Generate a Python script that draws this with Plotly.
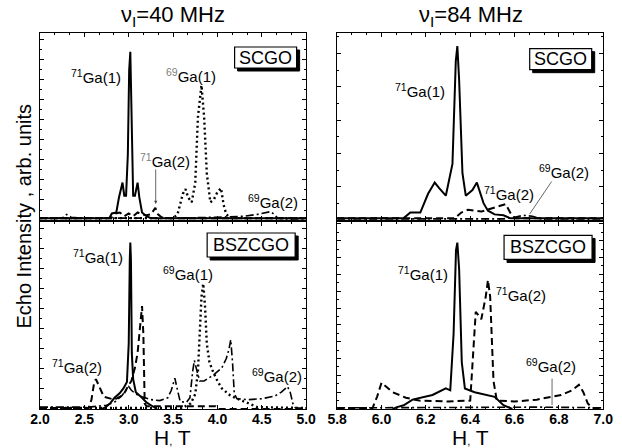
import plotly.graph_objects as go

# ---------------- data ----------------
# Top-left: SCGO, 40 MHz
tl_g71_1_x = [2.0, 2.78, 2.81, 2.86, 2.89, 2.93, 2.95, 2.97, 2.99, 3.005, 3.018, 3.03, 3.05, 3.07, 3.10, 3.12, 3.15, 3.20, 3.25, 5.0]
tl_g71_1_y = [0.01, 0.01, 0.035, 0.04, 0.12, 0.20, 0.13, 0.13, 0.35, 0.80, 0.90, 0.65, 0.13, 0.13, 0.20, 0.12, 0.04, 0.02, 0.01, 0.01]
tl_g71_2_x = [2.0, 2.80, 2.85, 2.90, 2.95, 3.00, 3.05, 3.10, 3.15, 3.20, 3.25, 3.28, 3.30, 3.33, 3.37, 3.45, 5.0]
tl_g71_2_y = [0.01, 0.01, 0.035, 0.04, 0.02, 0.035, 0.02, 0.04, 0.03, 0.025, 0.03, 0.05, 0.065, 0.03, 0.015, 0.01, 0.01]
tl_g69_1_x = [2.0, 3.50, 3.55, 3.58, 3.61, 3.64, 3.67, 3.71, 3.75, 3.78, 3.82, 3.85, 3.88, 3.92, 3.96, 4.00, 4.04, 4.07, 4.10, 4.15, 5.0]
tl_g69_1_y = [0.01, 0.01, 0.03, 0.08, 0.14, 0.165, 0.12, 0.095, 0.20, 0.55, 0.72, 0.55, 0.25, 0.095, 0.11, 0.15, 0.17, 0.08, 0.03, 0.01, 0.01]
tl_g69_2_x = [2.0, 2.25, 2.30, 2.35, 2.45, 3.0, 3.5, 4.0, 4.3, 4.45, 4.55, 4.60, 4.64, 4.68, 4.75, 5.0]
tl_g69_2_y = [0.01, 0.01, 0.03, 0.015, 0.01, 0.01, 0.01, 0.015, 0.02, 0.03, 0.04, 0.045, 0.03, 0.01, 0.006, 0.006]

# Top-right: SCGO, 84 MHz
tr_g71_1_x = [5.8, 6.10, 6.13, 6.175, 6.21, 6.24, 6.26, 6.29, 6.32, 6.335, 6.342, 6.35, 6.365, 6.38, 6.41, 6.43, 6.46, 6.48, 6.51, 6.55, 6.58, 7.0]
tr_g71_1_y = [0.01, 0.01, 0.04, 0.04, 0.14, 0.20, 0.17, 0.13, 0.30, 0.85, 0.93, 0.75, 0.25, 0.13, 0.16, 0.20, 0.09, 0.05, 0.03, 0.025, 0.01, 0.01]
tr_g71_2_x = [5.8, 6.33, 6.36, 6.39, 6.45, 6.52, 6.56, 6.585, 6.60, 7.0]
tr_g71_2_y = [0.01, 0.01, 0.04, 0.055, 0.045, 0.07, 0.085, 0.03, 0.01, 0.01]
tr_g69_2_x = [5.8, 6.55, 6.60, 6.64, 6.68, 6.72, 7.0]
tr_g69_2_y = [0.006, 0.006, 0.015, 0.025, 0.02, 0.006, 0.006]

# Bottom-left: BSZCGO, 40 MHz
bl_g71_1_x = [2.70, 2.74, 2.79, 2.84, 2.90, 2.94, 2.98, 3.00, 3.012, 3.018, 3.025, 3.035, 3.05, 3.08, 3.15, 3.20, 3.25, 3.32]
bl_g71_1_y = [0.0, 0.01, 0.03, 0.06, 0.085, 0.11, 0.145, 0.35, 0.80, 0.89, 0.80, 0.30, 0.16, 0.09, 0.06, 0.035, 0.02, 0.0]
bl_g71_2_x = [2.0, 2.55, 2.58, 2.61, 2.63, 2.67, 2.72, 2.84, 2.94, 2.99, 3.03, 3.07, 3.10, 3.13, 3.15, 3.165, 3.18, 3.20, 3.5, 3.98, 4.01, 5.0]
bl_g71_2_y = [0.006, 0.006, 0.05, 0.14, 0.16, 0.12, 0.065, 0.05, 0.075, 0.12, 0.15, 0.22, 0.30, 0.45, 0.55, 0.40, 0.03, 0.015, 0.015, 0.015, 0.0, 0.0]
bl_g69_1_x = [2.0, 3.60, 3.70, 3.75, 3.78, 3.80, 3.82, 3.84, 3.86, 3.88, 3.91, 3.95, 4.00, 4.05, 4.15, 4.25, 4.35, 4.45, 5.0]
bl_g69_1_y = [0.005, 0.005, 0.03, 0.08, 0.20, 0.40, 0.60, 0.67, 0.55, 0.35, 0.25, 0.20, 0.15, 0.11, 0.07, 0.05, 0.03, 0.01, 0.005]
bl_g69_2_x = [2.0, 2.55, 2.65, 2.75, 2.85, 2.92, 2.97, 3.00, 3.03, 3.08, 3.15, 3.25, 3.35, 3.44, 3.48, 3.52, 3.55, 3.58, 3.65, 3.69, 3.72, 3.74, 3.76, 3.80, 3.85, 3.95, 4.05, 4.10, 4.13, 4.15, 4.17, 4.19, 4.22, 4.35, 4.50, 4.65, 4.72, 4.76, 4.79, 4.82, 4.85, 4.88, 5.0]
bl_g69_2_y = [0.01, 0.01, 0.015, 0.02, 0.04, 0.07, 0.10, 0.12, 0.10, 0.08, 0.065, 0.05, 0.045, 0.06, 0.10, 0.165, 0.10, 0.04, 0.035, 0.06, 0.20, 0.26, 0.22, 0.15, 0.15, 0.18, 0.22, 0.27, 0.32, 0.37, 0.25, 0.08, 0.055, 0.05, 0.055, 0.07, 0.09, 0.11, 0.12, 0.09, 0.03, 0.005, 0.005]

# Bottom-right: BSZCGO, 84 MHz
br_g71_1_x = [6.05, 6.07, 6.10, 6.14, 6.23, 6.27, 6.29, 6.31, 6.325, 6.336, 6.342, 6.35, 6.362, 6.376, 6.42, 6.51, 6.55, 6.59]
br_g71_1_y = [0.0, 0.01, 0.02, 0.05, 0.075, 0.10, 0.11, 0.10, 0.40, 0.85, 0.89, 0.75, 0.25, 0.11, 0.09, 0.065, 0.02, 0.0]
br_g71_2_x = [5.8, 5.96, 5.98, 6.00, 6.05, 6.11, 6.17, 6.30, 6.40, 6.415, 6.425, 6.45, 6.47, 6.48, 6.49, 6.505, 6.52, 6.60, 6.70, 6.81, 6.86, 6.89, 6.91, 6.93, 6.95, 7.0]
br_g71_2_y = [0.006, 0.006, 0.065, 0.14, 0.09, 0.06, 0.045, 0.04, 0.045, 0.35, 0.52, 0.48, 0.60, 0.69, 0.60, 0.15, 0.045, 0.04, 0.05, 0.075, 0.10, 0.13, 0.09, 0.03, 0.006, 0.006]
br_g69_2_x = [5.8, 6.1, 6.3, 6.5, 6.7, 6.9, 7.0]
br_g69_2_y = [0.006, 0.008, 0.01, 0.01, 0.01, 0.008, 0.006]

left_ticks = [2.0, 2.5, 3.0, 3.5, 4.0, 4.5, 5.0]
right_ticks = [5.8, 6.0, 6.2, 6.4, 6.6, 6.8, 7.0]

# ---------------- figure ----------------
W, H = 622, 448
FONT = "Liberation Sans, Arial, sans-serif"

SOLID = dict(color="black", width=2, dash="solid")
DASH = dict(color="black", width=2, dash="7px,4px")
DOT = dict(color="black", width=2.4, dash="2px,3px")
DASHDOT = dict(color="black", width=1.6, dash="8px,3px,2px,3px")

fig = go.Figure()

def add(xs, ys, line, axis):
    xa, ya = axis
    fig.add_trace(go.Scatter(x=xs, y=ys, mode="lines", line=line, xaxis=xa, yaxis=ya,
                             showlegend=False, hoverinfo="skip"))

add(tl_g69_2_x, tl_g69_2_y, DASHDOT, ("x", "y"))
add(tl_g69_1_x, tl_g69_1_y, DOT, ("x", "y"))
add(tl_g71_2_x, tl_g71_2_y, DASH, ("x", "y"))
add(tl_g71_1_x, tl_g71_1_y, SOLID, ("x", "y"))

add(tr_g69_2_x, tr_g69_2_y, DASHDOT, ("x2", "y2"))
add(tr_g71_2_x, tr_g71_2_y, DASH, ("x2", "y2"))
add(tr_g71_1_x, tr_g71_1_y, SOLID, ("x2", "y2"))

add(bl_g69_2_x, bl_g69_2_y, DASHDOT, ("x3", "y3"))
add(bl_g69_1_x, bl_g69_1_y, DOT, ("x3", "y3"))
add(bl_g71_2_x, bl_g71_2_y, DASH, ("x3", "y3"))
add(bl_g71_1_x, bl_g71_1_y, SOLID, ("x3", "y3"))

add(br_g69_2_x, br_g69_2_y, DASHDOT, ("x4", "y4"))
add(br_g71_2_x, br_g71_2_y, DASH, ("x4", "y4"))
add(br_g71_1_x, br_g71_1_y, SOLID, ("x4", "y4"))

def px(v):
    return v / W

def py(v):
    return 1 - v / H

LX = [px(31), px(306)]
RX = [px(338), px(613)]
TY = [py(220), py(33)]
BY = [py(409), py(222)]

common_x = dict(showline=True, linecolor="black", linewidth=1, mirror="ticks", ticks="inside",
                ticklen=4, tickcolor="black", showgrid=False, zeroline=False,
                tickfont=dict(family=FONT, size=14, color="black"))
common_y = dict(showline=True, linecolor="black", linewidth=1, mirror="ticks", ticks="inside",
                ticklen=4, tickcolor="black", showgrid=False, zeroline=False,
                showticklabels=False, range=[0, 1])

def xax(dom, ticks, rng, minor_dt, anchor, labels):
    d = dict(common_x)
    d.update(domain=dom, range=rng, tickvals=ticks, anchor=anchor,
             ticktext=["<b>%.1f</b>" % t for t in ticks], showticklabels=labels,
             ticklabelstandoff=-3,
             minor=dict(dtick=minor_dt, tick0=rng[0], ticks="inside", ticklen=2, tickcolor="black"))
    return d

def yax(dom, dt, anchor):
    d = dict(common_y)
    d.update(domain=dom, anchor=anchor, dtick=dt, tick0=0,
             minor=dict(dtick=dt / 2, ticks="inside", ticklen=2, tickcolor="black"))
    return d

fig.update_layout(
    width=W, height=H, margin=dict(l=0, r=0, t=0, b=0),
    paper_bgcolor="white", plot_bgcolor="white",
    font=dict(family=FONT, color="black"),
    xaxis=xax(LX, left_ticks, [2.0, 5.0], 0.5 / 3, "y", False),
    xaxis2=xax(RX, right_ticks, [5.8, 7.0], 0.2 / 3, "y2", False),
    xaxis3=xax(LX, left_ticks, [2.0, 5.0], 0.5 / 3, "y3", True),
    xaxis4=xax(RX, right_ticks, [5.8, 7.0], 0.2 / 3, "y4", True),
    yaxis=yax(TY, 0.107, "x"),
    yaxis2=yax(TY, 0.178, "x2"),
    yaxis3=yax(BY, 0.107, "x3"),
    yaxis4=yax(BY, 0.09, "x4"),
)

ann = []
shapes = []
LBL = dict(family=FONT, size=15, color="black")
GREY = "#808080"

def label(text, x, y, xr, yr):
    ann.append(dict(text=text, x=x, y=y, xref=xr, yref=yr, showarrow=False, font=LBL,
                    xanchor="center", yanchor="middle"))

def box(text, x, y, xr, yr, w, h):
    # shadow
    shapes.append(dict(type="rect", xref=xr, yref=yr, xsizemode="pixel", ysizemode="pixel",
                       xanchor=x, yanchor=y, x0=-w / 2 + 3, x1=w / 2 + 3, y0=-h / 2 - 3, y1=h / 2 - 3,
                       fillcolor="black", line=dict(color="black", width=1), layer="above"))
    # white framed box
    shapes.append(dict(type="rect", xref=xr, yref=yr, xsizemode="pixel", ysizemode="pixel",
                       xanchor=x, yanchor=y, x0=-w / 2, x1=w / 2, y0=-h / 2, y1=h / 2,
                       fillcolor="white", line=dict(color="black", width=1.2), layer="above"))
    ann.append(dict(text=text, x=x, y=y, xref=xr, yref=yr, showarrow=False,
                    font=dict(family=FONT, size=18, color="black"),
                    xanchor="center", yanchor="middle"))

def arrow(x, y, ax, ay, xr, yr, head):
    ann.append(dict(text="", x=x, y=y, xref=xr, yref=yr, showarrow=True, ax=ax, ay=ay,
                    arrowhead=head, arrowsize=0.8, arrowwidth=0.8, arrowcolor="#404040"))

# top-left
label("<sup>71</sup>Ga(1)", 2.633, 0.765, "x", "y")
label("<sup><span style='color:%s'>69</span></sup>Ga(1)" % GREY, 3.70, 0.775, "x", "y")
label("<sup><span style='color:%s'>71</span></sup>Ga(2)" % GREY, 3.41, 0.32, "x", "y")
label("<sup>69</sup>Ga(2)", 4.63, 0.098, "x", "y")
arrow(3.304, 0.086, 0, -36, "x", "y", 2)
box("SCGO", 4.543, 0.869, "x", "y", 62, 21)

# top-right
label("<sup>71</sup>Ga(1)", 6.175, 0.695, "x2", "y2")
label("<sup>71</sup>Ga(2)", 6.577, 0.144, "x2", "y2")
label("<sup>69</sup>Ga(2)", 6.823, 0.257, "x2", "y2")
arrow(6.668, 0.032, 23, -34, "x2", "y2", 0)
box("SCGO", 6.808, 0.86, "x2", "y2", 62, 21)

# bottom-left
label("<sup>71</sup>Ga(1)", 2.655, 0.814, "x3", "y3")
label("<sup>69</sup>Ga(1)", 3.67, 0.727, "x3", "y3")
label("<sup>71</sup>Ga(2)", 2.415, 0.226, "x3", "y3")
label("<sup>69</sup>Ga(2)", 4.67, 0.18, "x3", "y3")
box("BSZCGO", 4.38, 0.877, "x3", "y3", 88, 24)

# bottom-right
label("<sup>71</sup>Ga(1)", 6.187, 0.726, "x4", "y4")
label("<sup>71</sup>Ga(2)", 6.628, 0.61, "x4", "y4")
label("<sup>69</sup>Ga(2)", 6.764, 0.232, "x4", "y4")
arrow(6.769, 0.021, 0, -28, "x4", "y4", 0)
box("BSZCGO", 6.751, 0.864, "x4", "y4", 88, 24)

# titles
TT = dict(family=FONT, size=22, color="black")
ann.append(dict(text="\u03bd<sub>I</sub>=40 MHz", x=px(168), y=py(16), xref="paper", yref="paper",
                showarrow=False, font=TT, xanchor="center", yanchor="middle"))
ann.append(dict(text="\u03bd<sub>I</sub>=84 MHz", x=px(476), y=py(16), xref="paper", yref="paper",
                showarrow=False, font=TT, xanchor="center", yanchor="middle"))
# axis titles
XT = dict(family=FONT, size=21, color="black")
for cx in (168, 476):
    ann.append(dict(text="H<span style='font-size:11px'>,</span> T", x=px(cx), y=py(437), xref="paper",
                    yref="paper", showarrow=False, font=XT, xanchor="center", yanchor="middle"))
ann.append(dict(text="Echo Intensity , arb. units", x=px(14), y=py(216), xref="paper", yref="paper",
                showarrow=False, textangle=-90, font=dict(family=FONT, size=20, color="black"),
                xanchor="center", yanchor="middle"))

fig.update_layout(annotations=ann, shapes=shapes)
fig.write_html("out.html")
